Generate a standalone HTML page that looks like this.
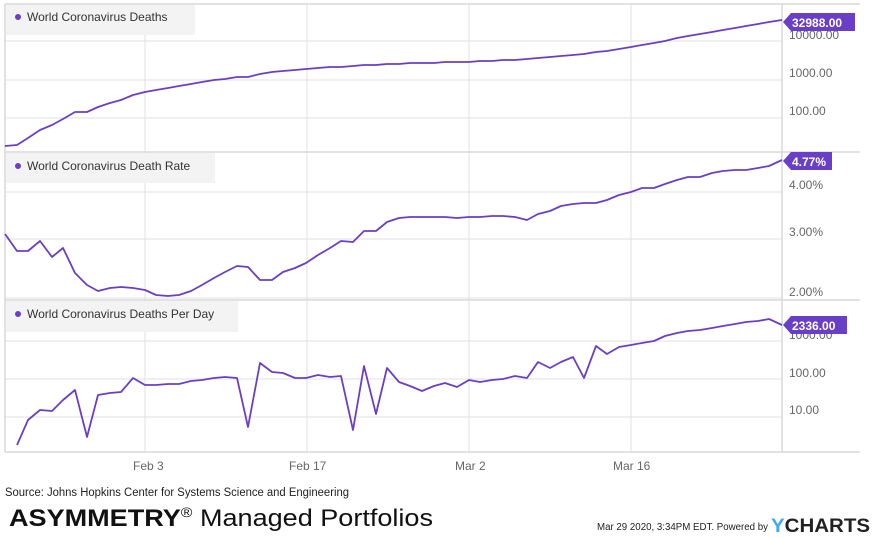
<!DOCTYPE html><html><head><style>body{margin:0;background:#fff;width:875px;height:537px;overflow:hidden;font-family:"Liberation Sans",sans-serif}</style></head><body>
<svg width="875" height="537" xmlns="http://www.w3.org/2000/svg" style="position:absolute;left:0;top:0">
<g stroke="#e6e6e6" stroke-width="1.2">
<line x1="145" y1="4" x2="145" y2="452"/><line x1="307" y1="4" x2="307" y2="452"/><line x1="469" y1="4" x2="469" y2="452"/><line x1="631" y1="4" x2="631" y2="452"/>
<line x1="5" y1="41" x2="782" y2="41"/><line x1="5" y1="80" x2="782" y2="80"/><line x1="5" y1="118" x2="782" y2="118"/>
<line x1="5" y1="192" x2="782" y2="192"/><line x1="5" y1="239" x2="782" y2="239"/><line x1="5" y1="298" x2="782" y2="298"/>
<line x1="5" y1="341" x2="782" y2="341"/><line x1="5" y1="379" x2="782" y2="379"/><line x1="5" y1="417" x2="782" y2="417"/>
</g>
<g stroke="#d8d8d8" stroke-width="1.5">
<line x1="5" y1="4" x2="860" y2="4"/><line x1="5" y1="152" x2="860" y2="152"/><line x1="5" y1="300" x2="860" y2="300"/><line x1="5" y1="452" x2="860" y2="452"/>
<line x1="5" y1="4" x2="5" y2="452"/><line x1="782" y1="4" x2="782" y2="452"/>
</g>
<rect x="6" y="5" width="189" height="30" fill="#f3f3f3"/>
<rect x="6" y="153" width="209" height="30" fill="#f3f3f3"/>
<rect x="6" y="301" width="232" height="31" fill="#f3f3f3"/>
<g font-size="12" fill="#333"><circle cx="18" cy="17" r="3" fill="#6a3fc8"/><text x="27" y="21">World Coronavirus Deaths</text>
<circle cx="18" cy="166" r="3" fill="#6a3fc8"/><text x="27" y="170">World Coronavirus Death Rate</text>
<circle cx="18" cy="314" r="3" fill="#6a3fc8"/><text x="27" y="318">World Coronavirus Deaths Per Day</text></g>
<g fill="none" stroke="#6a3fc8" stroke-width="1.8" stroke-linejoin="round">
<polyline points="5,146 17,145 28,138 40,130 52,125 63,119 75,112 87,112 98,107 110,103 121,100 133,95 145,92 156,90 168,88 179,86 191,84 202,82 214,80 225,79 237,77 248,77 260,74 272,72 283,71 295,70 306,69 318,68 330,67 341,67 353,66 364,65 376,65 387,64 399,64 410,63 422,63 434,63 445,62 457,62 469,62 480,61 492,61 503,60 515,60 527,59 538,58 550,57 561,56 573,55 584,54 596,52 607,51 619,49 631,47 642,45 654,43 665,41 677,38 688,36 700,34 712,32 723,30 735,28 746,26 758,24 769,22 782,20"/>
<polyline points="5,234 17,251 28,251 40,241 52,257 63,248 75,273 87,285 98,291 110,288 121,287 133,288 145,290 156,295 168,296 179,295 191,291 202,285 214,278 225,272 237,266 248,267 260,280 272,280 283,272 295,268 306,263 318,255 330,248 341,241 353,242 364,231 376,231 387,222 399,218 410,217 422,217 434,217 445,217 457,218 469,217 480,217 492,216 503,216 515,217 527,220 538,214 550,211 561,206 573,204 584,203 596,203 607,200 619,195 631,192 642,188 654,188 665,184 677,180 688,177 700,177 712,173 723,171 735,170 746,170 758,168 769,166 782,160"/>
<polyline points="17,445 28,420 40,410 52,411 63,400 75,390 87,437 98,395 110,393 121,392 133,378 145,385 156,385 168,384 179,384 191,381 202,380 214,378 225,377 237,378 248,427 260,363 272,372 283,373 295,378 306,378 318,375 330,377 341,376 353,430 364,366 376,414 387,368 399,382 410,386 422,391 434,386 445,383 457,387 469,380 480,382 492,380 503,379 515,376 527,378 538,362 550,368 561,362 573,357 584,378 596,346 607,354 619,347 631,345 642,343 654,341 665,336 677,333 688,331 700,330 712,328 723,326 735,324 746,322 758,321 769,319 782,325"/>
</g>
<g font-size="12" fill="#666">
<text x="789" y="39">10000.00</text><text x="789" y="77">1000.00</text><text x="789" y="115">100.00</text>
<text x="789" y="189">4.00%</text><text x="789" y="236">3.00%</text><text x="789" y="296">2.00%</text>
<text x="789" y="339">1000.00</text><text x="789" y="377">100.00</text><text x="789" y="414">10.00</text>
<text x="133" y="470">Feb 3</text><text x="289" y="470">Feb 17</text><text x="455" y="470">Mar 2</text><text x="613" y="470">Mar 16</text>
</g>
<g fill="#6a3fc8"><path d="M783,22 L791,13 L855,13 L855,31 L791,31 Z"/><path d="M783,161 L791,152 L832,152 L832,170 L791,170 Z"/><path d="M783,325 L791,316 L847,316 L847,334 L791,334 Z"/></g>
<g font-size="12" font-weight="bold" fill="#fff"><text x="792" y="27">32988.00</text><text x="792" y="166">4.77%</text><text x="792" y="330">2336.00</text></g>
<text x="5" y="496" font-size="11.5" fill="#222" textLength="344" lengthAdjust="spacingAndGlyphs">Source: Johns Hopkins Center for Systems Science and Engineering</text>
<text x="9" y="526" font-size="24" fill="#111" textLength="424" lengthAdjust="spacingAndGlyphs"><tspan font-weight="bold">ASYMMETRY</tspan><tspan font-size="14" dy="-9">®</tspan><tspan dy="9"> Managed Portfolios</tspan></text>
<text x="597" y="530" font-size="10" fill="#222" textLength="171" lengthAdjust="spacingAndGlyphs">Mar 29 2020, 3:34PM EDT.  Powered by</text>
<text x="771" y="532" font-size="19" font-weight="bold" fill="#222" textLength="99" lengthAdjust="spacingAndGlyphs"><tspan fill="#3fa9f5">Y</tspan>CHARTS</text>
</svg></body></html>
